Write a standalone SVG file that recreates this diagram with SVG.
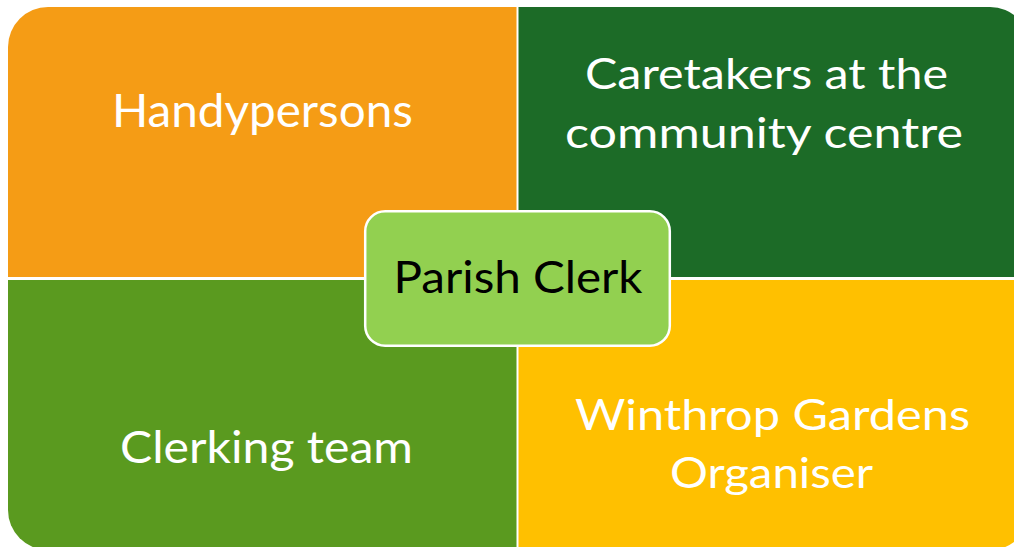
<svg xmlns="http://www.w3.org/2000/svg" width="1014" height="547" viewBox="0 0 1014 547">
  <style>
    .lbl { font-family: Lato, "Liberation Sans", sans-serif; fill: #ffffff; text-anchor: middle; }
    .ctr { font-family: Lato, "Liberation Sans", sans-serif; fill: #000000; text-anchor: middle; }
  </style>
  <rect x="0" y="0" width="1014" height="547" fill="#ffffff"/>
  <g id="handypersons">
    <path d="M8,47 A40,40 0 0 1 48,7 L516.5,7 L516.5,277 L8,277 Z" fill="#F59C15"/>
    <text class="lbl" x="262.4" y="127" font-size="47" textLength="301" lengthAdjust="spacingAndGlyphs">Handypersons</text>
  </g>
  <g id="caretakers">
    <path d="M518.5,7 L990,7 A40,40 0 0 1 1030,47 L1030,277 L518.5,277 Z" fill="#1C6B27"/>
    <text class="lbl" x="766.5" y="89" font-size="43" textLength="363" lengthAdjust="spacingAndGlyphs">Caretakers at the</text>
    <text class="lbl" x="764" y="147.5" font-size="43" textLength="398" lengthAdjust="spacingAndGlyphs">community centre</text>
  </g>
  <g id="clerking-team">
    <path d="M8,280 L516.5,280 L516.5,550 L48,550 A40,40 0 0 1 8,510 Z" fill="#5A9A1F"/>
    <text class="lbl" x="266.5" y="463" font-size="44" textLength="293" lengthAdjust="spacingAndGlyphs">Clerking team</text>
  </g>
  <g id="winthrop">
    <path d="M518.5,280 L1030,280 L1030,510 A40,40 0 0 1 990,550 L518.5,550 Z" fill="#FFC000"/>
    <text class="lbl" x="772.5" y="430" font-size="43" textLength="395" lengthAdjust="spacingAndGlyphs">Winthrop Gardens</text>
    <text class="lbl" x="771.5" y="487.5" font-size="43" textLength="203" lengthAdjust="spacingAndGlyphs">Organiser</text>
  </g>
  <g id="connectors"/>
  <g id="parish-clerk">
    <rect x="365.2" y="211.2" width="304.6" height="134.6" rx="20" ry="20" fill="#92D050" stroke="#ffffff" stroke-width="2.5"/>
    <text class="ctr" x="518" y="292.5" font-size="44" textLength="249" lengthAdjust="spacingAndGlyphs">Parish Clerk</text>
  </g>
</svg>
